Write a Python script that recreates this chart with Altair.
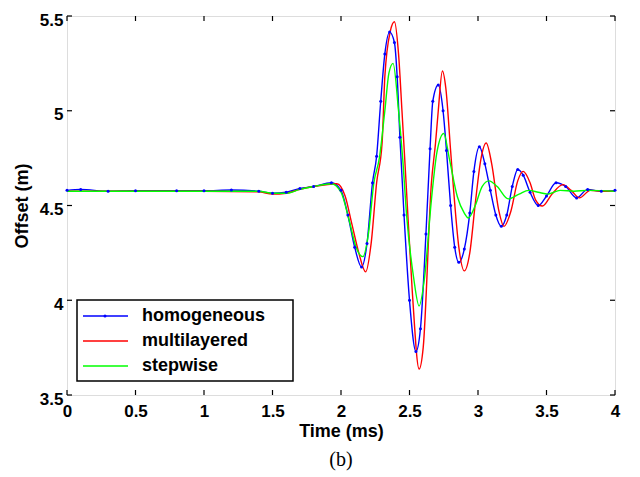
import altair as alt
import pandas as pd

# ---- data ----
homo_t = [0, 0.1, 0.3, 0.5, 0.8, 1.0, 1.2, 1.4, 1.5, 1.6, 1.7, 1.8, 1.93, 2.0, 2.05, 2.1, 2.15,
          2.19, 2.23, 2.26, 2.29, 2.32, 2.355, 2.39, 2.41, 2.43, 2.46, 2.5, 2.547, 2.58, 2.62,
          2.65, 2.67, 2.71, 2.745, 2.77, 2.8, 2.83, 2.86, 2.9, 2.94, 2.97, 3.01, 3.05, 3.09,
          3.13, 3.17, 3.21, 3.25, 3.29, 3.33, 3.38, 3.44, 3.5, 3.57, 3.64, 3.72, 3.8, 3.9, 4.0]
homo_y = [4.58, 4.585, 4.575, 4.578, 4.578, 4.578, 4.582, 4.575, 4.565, 4.57, 4.59, 4.6, 4.62,
          4.58, 4.45, 4.28, 4.175, 4.3, 4.62, 4.76, 5.05, 5.3, 5.415, 5.36, 5.18, 4.86, 4.45,
          4.0, 3.73, 3.85, 4.35, 4.8, 5.05, 5.136, 5.0, 4.79, 4.5, 4.28, 4.2, 4.27, 4.46, 4.68,
          4.81, 4.72, 4.58, 4.45, 4.39, 4.45, 4.6, 4.69, 4.66, 4.57, 4.5, 4.55, 4.62, 4.6, 4.54,
          4.585, 4.575, 4.58]

multi_t = [0, 0.5, 1.0, 1.4, 1.5, 1.6, 1.7, 1.8, 1.97, 2.03, 2.08, 2.13, 2.18, 2.22, 2.26, 2.3,
           2.32, 2.36, 2.39, 2.42, 2.445, 2.475, 2.52, 2.57, 2.6, 2.66, 2.69, 2.71, 2.74, 2.765,
           2.8, 2.82, 2.86, 2.9, 2.94, 2.98, 3.02, 3.06, 3.1, 3.15, 3.19, 3.24, 3.29, 3.33,
           3.38, 3.42, 3.47, 3.54, 3.62, 3.68, 3.74, 3.82, 3.9, 4.0]
multi_y = [4.575, 4.575, 4.575, 4.572, 4.56, 4.565, 4.585, 4.6, 4.615, 4.55, 4.4, 4.25, 4.15,
           4.3, 4.62, 4.83, 5.18, 5.42, 5.47, 5.3, 5.0, 4.62, 4.05, 3.637, 3.75, 4.62, 4.83,
           5.0, 5.21, 5.12, 4.79, 4.6, 4.28, 4.155, 4.25, 4.51, 4.74, 4.83, 4.72, 4.48, 4.39,
           4.47, 4.63, 4.68, 4.62, 4.53, 4.497, 4.56, 4.61, 4.58, 4.54, 4.58, 4.575, 4.575]

step_t = [0, 1.0, 1.4, 1.5, 1.6, 1.7, 1.8, 1.93, 2.0, 2.06, 2.11, 2.16, 2.2, 2.24, 2.28, 2.32,
          2.35, 2.38, 2.42, 2.45, 2.48, 2.53, 2.57, 2.61, 2.66, 2.7, 2.75, 2.79, 2.85, 2.9,
          2.93, 2.98, 3.03, 3.08, 3.14, 3.22, 3.3, 3.37, 3.44, 3.51, 3.6, 3.7, 3.8, 4.0]
step_y = [4.575, 4.575, 4.575, 4.565, 4.565, 4.585, 4.6, 4.615, 4.57, 4.42, 4.28, 4.23, 4.35,
          4.62, 4.75, 5.0, 5.2, 5.25, 5.0, 4.75, 4.44, 4.12, 3.97, 4.12, 4.53, 4.78, 4.88, 4.75,
          4.545, 4.46, 4.434, 4.5, 4.6, 4.63, 4.6, 4.535, 4.56, 4.58, 4.57, 4.56, 4.58, 4.575,
          4.58, 4.575]

series_names = ["homogeneous", "multilayered", "stepwise"]
series_colors = ["#0000ff", "#ff0000", "#00ff00"]
x_ticks = [0, 0.5, 1, 1.5, 2, 2.5, 3, 3.5, 4]
y_ticks = [3.5, 4, 4.5, 5, 5.5]

rows = []
for name, ts, ys in zip(series_names, [homo_t, multi_t, step_t], [homo_y, multi_y, step_y]):
    for i, (t, y) in enumerate(zip(ts, ys)):
        rows.append({"series": name, "t": t, "y": y, "idx": i})
df = pd.DataFrame(rows)
df_homo = df[df.series == "homogeneous"]

W, H = 548, 379
FONT = "Liberation Sans"

xscale = alt.Scale(domain=[0, 4], nice=False, zero=False)
yscale = alt.Scale(domain=[3.5, 5.5], nice=False, zero=False)

xaxis = alt.Axis(values=x_ticks, format="~g", title="Time (ms)", tickSize=0, domain=False, grid=False,
                 labelPadding=8, labelFontSize=17, labelFontWeight="bold", labelFont=FONT,
                 titleFontSize=18, titleFontWeight="bold", titleFont=FONT, titlePadding=3,
                 labelFlush=False, labelColor="black", titleColor="black")
yaxis = alt.Axis(values=y_ticks, format="~g", title="Offset (m)", tickSize=0, domain=False, grid=False,
                 labelPadding=4, labelFontSize=17, labelFontWeight="bold", labelFont=FONT,
                 titleFontSize=18, titleFontWeight="bold", titleFont=FONT, titlePadding=8,
                 labelOffset=4, labelFlush=False, labelColor="black", titleColor="black")

lines = alt.Chart(df).mark_line(strokeWidth=1.4, interpolate="monotone").encode(
    x=alt.X("t:Q", scale=xscale, axis=xaxis),
    y=alt.Y("y:Q", scale=yscale, axis=yaxis),
    color=alt.Color("series:N", scale=alt.Scale(domain=series_names, range=series_colors),
                    legend=None),
    detail="series:N",
    order="idx:Q",
)

pts = alt.Chart(df_homo).mark_circle(size=9, color="#0000ff", opacity=1).encode(
    x=alt.X("t:Q", scale=xscale),
    y=alt.Y("y:Q", scale=yscale),
)

xt = pd.DataFrame({"v": x_ticks})
yt = pd.DataFrame({"v": y_ticks})
tick_style = dict(color="black", strokeWidth=1.2)
bt = alt.Chart(xt).mark_rule(**tick_style).encode(x=alt.X("v:Q", scale=xscale), y=alt.value(H), y2=alt.value(H - 5))
tt = alt.Chart(xt).mark_rule(**tick_style).encode(x=alt.X("v:Q", scale=xscale), y=alt.value(0), y2=alt.value(5))
lt = alt.Chart(yt).mark_rule(**tick_style).encode(y=alt.Y("v:Q", scale=yscale), x=alt.value(0), x2=alt.value(5))
rt = alt.Chart(yt).mark_rule(**tick_style).encode(y=alt.Y("v:Q", scale=yscale), x=alt.value(W), x2=alt.value(W - 5))

# ---- hand-built legend box (decoration) ----
one = pd.DataFrame({"k": [0]})
LX0, LX1, LY0, LY1 = 10, 226, 284, 365
legend_layers = [
    alt.Chart(one).mark_rect(fill="white", stroke="black", strokeWidth=1.5).encode(
        x=alt.value(LX0), x2=alt.value(LX1), y=alt.value(LY0), y2=alt.value(LY1))
]
row_y = [300, 325, 350]
for name, col, ry in zip(series_names, series_colors, row_y):
    legend_layers.append(alt.Chart(one).mark_rule(color=col, strokeWidth=1.5).encode(
        x=alt.value(16), x2=alt.value(61), y=alt.value(ry)))
    legend_layers.append(alt.Chart(one).mark_text(
        text=name, align="left", baseline="middle", font=FONT, fontSize=18,
        fontWeight="bold", color="black").encode(x=alt.value(75), y=alt.value(ry)))
legend_layers.append(alt.Chart(one).mark_circle(size=9, color="#0000ff", opacity=1).encode(
    x=alt.value(38), y=alt.value(row_y[0])))

chart = alt.layer(bt, tt, lt, rt, lines, pts, *legend_layers).properties(
    width=W, height=H,
    autosize=alt.AutoSizeParams(type="none"),
    padding={"left": 67, "top": 16, "right": 25, "bottom": 82},
    title=alt.TitleParams("(b)", orient="bottom", font="Liberation Serif", fontSize=20,
                          fontWeight="normal", color="black", offset=10, anchor="middle"),
).configure_view(stroke="black", strokeWidth=2).configure(background="white")

chart.save("out.html", embed_options={"renderer": "svg", "actions": False})
